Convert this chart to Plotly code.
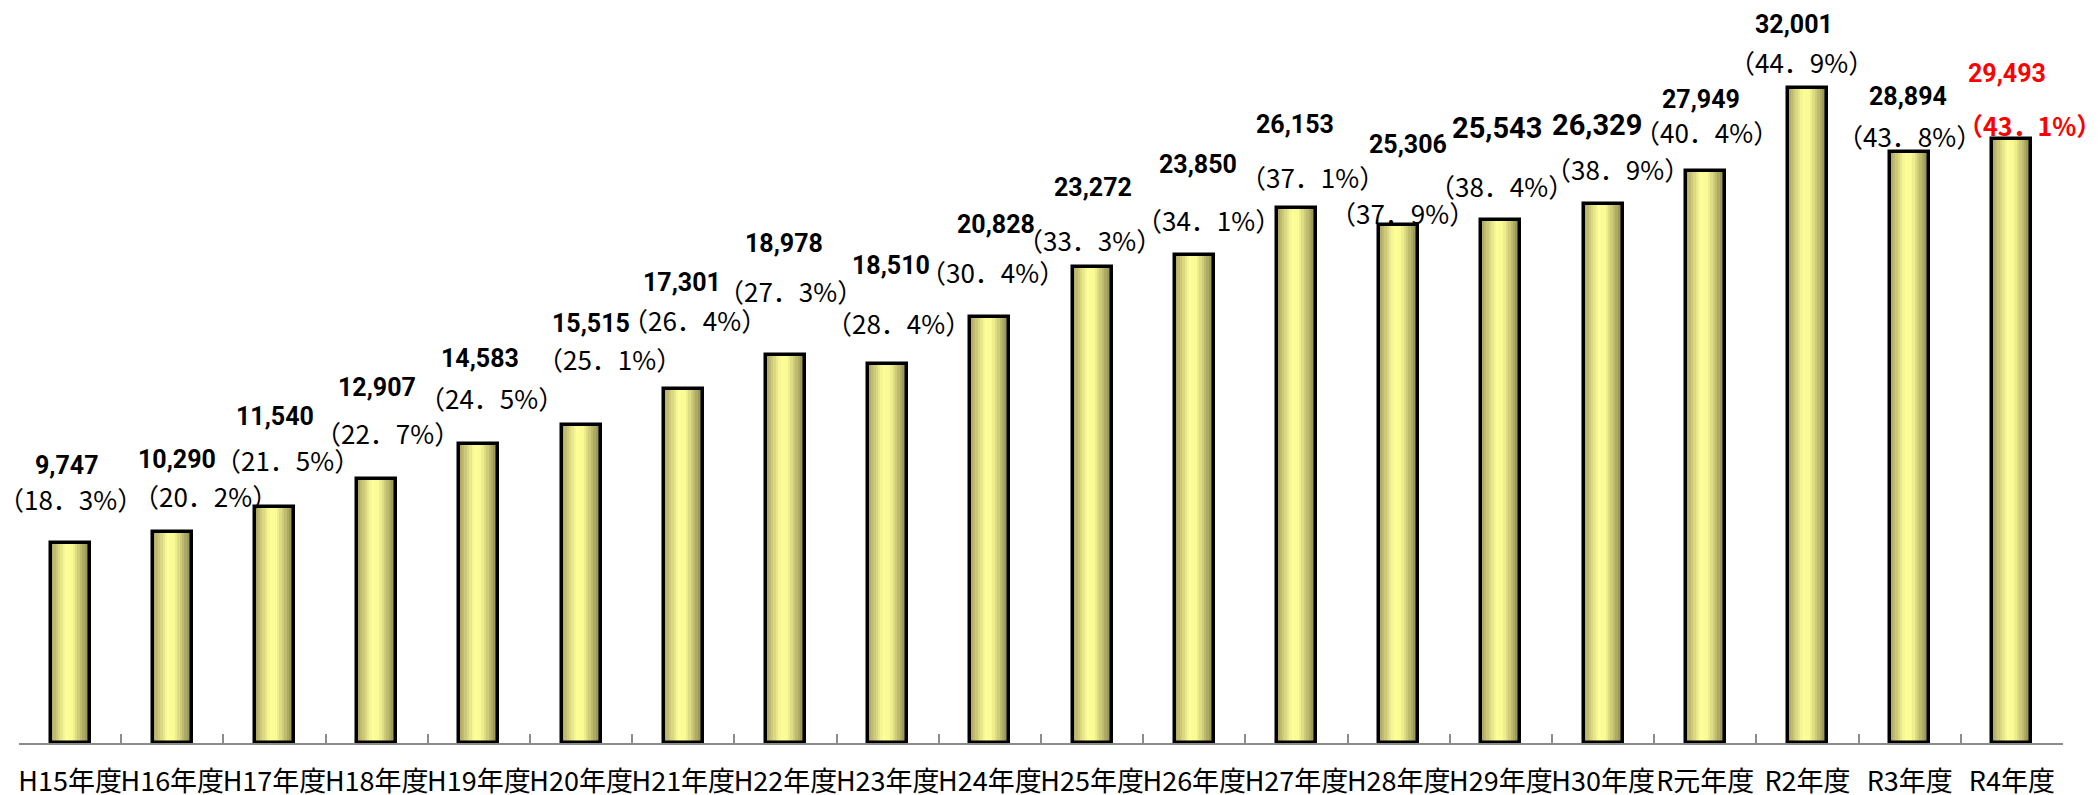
import plotly.graph_objects as go

# data
years = ["H15年度", "H16年度", "H17年度", "H18年度", "H19年度", "H20年度", "H21年度",
         "H22年度", "H23年度", "H24年度", "H25年度", "H26年度", "H27年度", "H28年度",
         "H29年度", "H30年度", "R元年度", "R2年度", "R3年度", "R4年度"]
counts = [9747, 10290, 11540, 12907, 14583, 15515, 17301, 18978, 18510, 20828,
          23272, 23850, 26153, 25306, 25543, 26329, 27949, 32001, 28894, 29493]
ratios = [18.3, 20.2, 21.5, 22.7, 24.5, 25.1, 26.4, 27.3, 28.4, 30.4,
          33.3, 34.1, 37.1, 37.9, 38.4, 38.9, 40.4, 44.9, 43.8, 43.1]

# label placement (pixel offsets from bar top), as laid out in the original
val_dx = [-3, 5, 0, 0, 1, 10, -1, -2, 3, 6, 1, 4, -2, 9, -4, -6, -4, -14, -2, -5]
val_up = [78, 73, 90, 91, 86, 102, 106, 111, 99, 92, 79, 90, 83, 80, 92, 79, 71, 63, 55, 66]
pct_dx = [0, 33, 13, 11, 13, 28, 11, 5, 11, 3, -3, 14, 16, 4, 1, 14, 1, -6, 0, 18]
pct_up = [45, 37, 47, 46, 47, 67, 69, 64, 42, 45, 27, 35, 31, 12, 35, 36, 39, 26, 16, 14]
big_vals = [14, 15]   # these two are set in a larger font
hilite = 19           # latest year in red

BAR_W = 0.38
stops = [(0.0, (170, 164, 98)), (0.38, (255, 255, 153)), (0.55, (250, 250, 148)), (1.0, (132, 127, 74))]


def grad(t):
    for (t0, c0), (t1, c1) in zip(stops, stops[1:]):
        if t0 <= t <= t1:
            f = (t - t0) / (t1 - t0)
            return "rgb(%d,%d,%d)" % tuple(round(a + (b - a) * f) for a, b in zip(c0, c1))
    return "rgb(%d,%d,%d)" % stops[-1][1]


fig = go.Figure()

# horizontal shading of the bars, done as thin overlaid slices
N = 16
step = BAR_W / N
for k in range(N):
    w = min(step * 1.6, BAR_W - k * step)
    fig.add_trace(go.Bar(x=years, y=counts,
                         width=w, offset=-BAR_W / 2 + k * step,
                         marker=dict(color=grad((k + 0.5) / N), line_width=0),
                         hoverinfo="skip", showlegend=False))

# outline
fig.add_trace(go.Bar(x=years, y=counts, width=BAR_W,
                     marker=dict(color="rgba(0,0,0,0)",
                                 line=dict(color="black", width=3.5)),
                     showlegend=False))

VAL_FONT = "Liberation Sans Narrow, Arial Narrow, Roboto, sans-serif"
PCT_FONT = "Noto Sans CJK JP, sans-serif"

annotations = []
for i, (yr, v, r) in enumerate(zip(years, counts, ratios)):
    red = (i == hilite)
    col = "red" if red else "black"
    size = 29 if i in big_vals else 25
    annotations.append(dict(x=yr, y=v, text="<b>{:,}</b>".format(v),
                            showarrow=False, xshift=val_dx[i], yshift=val_up[i],
                            yanchor="middle", font=dict(family=VAL_FONT, size=size, color=col)))
    pct = "（{}．{}%）".format(*str(r).split("."))
    if red:
        pct = "<b>" + pct + "</b>"
    annotations.append(dict(x=yr, y=v, text=pct,
                            showarrow=False, xshift=pct_dx[i], yshift=pct_up[i],
                            yanchor="middle",
                            font=dict(family=PCT_FONT, size=25 if red else 26, color=col)))

fig.update_layout(
    width=2100, height=795,
    margin=dict(l=11, r=45, t=12, b=60, autoexpand=False),
    paper_bgcolor="white", plot_bgcolor="white",
    barmode="overlay", bargap=0,
    showlegend=False,
    annotations=annotations,
    xaxis=dict(type="category", range=[-0.5, 19.5], showgrid=False, zeroline=False,
               automargin=False,
               showline=True, linecolor="#8c8c8c", linewidth=1.5,
               ticks="inside", ticklen=9, tickcolor="#8c8c8c", tickwidth=1.5,
               tickson="boundaries", tickangle=0, ticklabelstandoff=14,
               tickfont=dict(family="Noto Sans CJK JP, sans-serif", size=27, color="black")),
    yaxis=dict(visible=False, range=[0, 35320]),
)

fig.write_html("out.html")
